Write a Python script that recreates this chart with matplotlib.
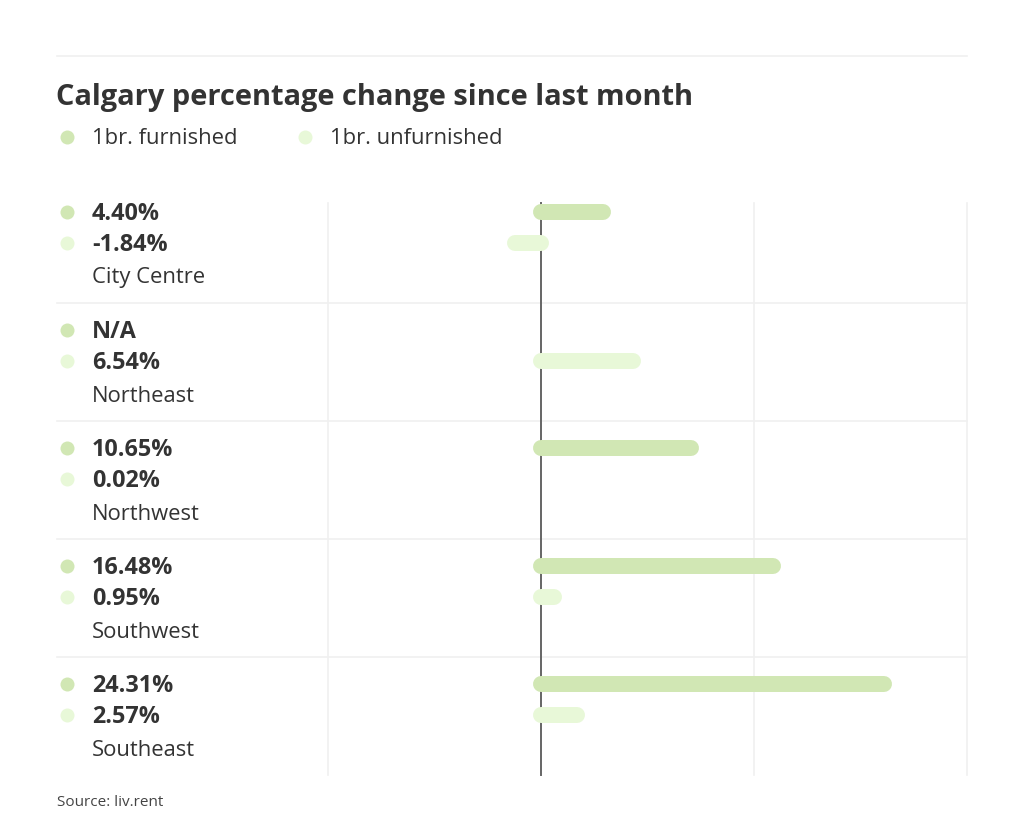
import numpy as np
import matplotlib
matplotlib.use("Agg")
import matplotlib.pyplot as plt
from matplotlib import transforms
from matplotlib.lines import Line2D

# ---- data ----
title = "Calgary percentage change since last month"
series_names = ["1br. furnished", "1br. unfurnished"]
regions = ["City Centre", "Northeast", "Northwest", "Southwest", "Southeast"]
furnished = [4.40, np.nan, 10.65, 16.48, 24.31]
unfurnished = [-1.84, 6.54, 0.02, 0.95, 2.57]
source = "Source: liv.rent"

# ---- style ----
C_FURN = "#d1e7b4"
C_UNF = "#e8f8d8"
C_TEXT = "#333333"
C_GRID = "#f0f0f0"
FONT = ["Open Sans", "DejaVu Sans"]
plt.rcParams["font.family"] = FONT

W, H, DPI = 1024, 836, 100
fig = plt.figure(figsize=(W / DPI, H / DPI), dpi=DPI)
fig.patch.set_facecolor("white")

def fx(px):
    return px / W

def fy(py):
    return 1 - py / H

# axes: x 328..967, y 185..775
ax = fig.add_axes([fx(328), fy(775), fx(967) - fx(328), fy(185) - fy(775)])
ax.set_facecolor("none")
for s in ax.spines.values():
    s.set_visible(False)
ax.set_xticks([])
ax.set_yticks([])
xmin, xmax = -15.1, 30.2
ax.set_xlim(xmin, xmax)
n = len(regions)
ax.set_ylim(n, 0)

OFF_F, OFF_U, OFF_L = 27 / 118, 58 / 118, 91 / 118
TXT_SHIFT = 2 / 118
grid_top = 18 / 118

# vertical grid lines
for gx in np.linspace(xmin, xmax, 4):
    ax.plot([gx, gx], [grid_top, n], color=C_GRID, lw=1.2, zorder=1,
            clip_on=False)
ax.plot([0, 0], [grid_top, n], color="#666666", lw=1.4, zorder=2,
        clip_on=False)

# horizontal separators spanning full width
btr = transforms.blended_transform_factory(fig.transFigure, ax.transData)
for i in range(1, n):
    ax.add_line(Line2D([fx(57), fx(967)], [i, i], transform=btr,
                       color=C_GRID, lw=1.2, zorder=1, clip_on=False))

# bars (round-capped lines)
BAR_LW = 16 * 72 / DPI
for i in range(n):
    f = furnished[i]
    u = unfurnished[i]
    if not np.isnan(f):
        ax.plot([0, f], [i + OFF_F, i + OFF_F], color=C_FURN, lw=BAR_LW,
                solid_capstyle="round", zorder=3, clip_on=False)
    if not np.isnan(u):
        ax.plot([0, u], [i + OFF_U, i + OFF_U], color=C_UNF, lw=BAR_LW,
                solid_capstyle="round", zorder=3, clip_on=False)

# left labels
DOT_MS = 14 * 72 / DPI
for i in range(n):
    f = furnished[i]
    u = unfurnished[i]
    ax.plot([fx(67)], [i + OFF_F], "o", ms=DOT_MS, color=C_FURN, mec="none",
            transform=btr, clip_on=False)
    ax.plot([fx(67)], [i + OFF_U], "o", ms=DOT_MS, color=C_UNF, mec="none",
            transform=btr, clip_on=False)
    ftxt = "N/A" if np.isnan(f) else f"{f:.2f}%"
    utxt = "N/A" if np.isnan(u) else f"{u:.2f}%"
    ax.text(fx(92), i + OFF_F + TXT_SHIFT, ftxt, transform=btr, ha="left",
            va="center", fontsize=16.8, fontweight="bold", color=C_TEXT)
    ax.text(fx(92), i + OFF_U + TXT_SHIFT, utxt, transform=btr, ha="left",
            va="center", fontsize=16.8, fontweight="bold", color=C_TEXT)
    ax.text(fx(92), i + OFF_L + TXT_SHIFT, regions[i], transform=btr,
            ha="left", va="center", fontsize=15.8, color=C_TEXT)

# top rule
fig.add_artist(Line2D([fx(57), fx(967)], [fy(56), fy(56)], color=C_GRID,
                      lw=1.2))

# title
fig.text(fx(56), fy(98), title, ha="left", va="center", fontsize=20.9,
         fontweight="bold", color=C_TEXT)

# legend
leg_x = [67, 305]
for k, (name, col) in enumerate(zip(series_names, [C_FURN, C_UNF])):
    fig.add_artist(Line2D([fx(leg_x[k])], [fy(137)], marker="o", ms=DOT_MS,
                          color=col, mec="none", ls="none"))
    fig.text(fx(leg_x[k] + 25), fy(139), name, ha="left", va="center",
             fontsize=15.8, color=C_TEXT)

# source
fig.text(fx(57), fy(803), source, ha="left", va="center", fontsize=11,
         color="#444444")

fig.savefig("out.png", dpi=DPI, facecolor="white")
